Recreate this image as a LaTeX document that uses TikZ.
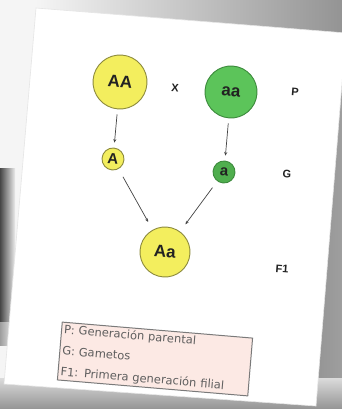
\documentclass[tikz,border=0pt]{standalone}
\usepackage{fontspec}
\setmainfont{Liberation Sans}
\newfontfamily\legendfont{DejaVu Sans}
\usetikzlibrary{arrows.meta}

\definecolor{yel}{HTML}{F3EE5E}
\definecolor{yelline}{HTML}{8C8A3C}
\definecolor{grn}{HTML}{5CC45A}
\definecolor{grndark}{HTML}{4FAE4E}
\definecolor{grnline}{HTML}{3C8A3C}
\definecolor{legfill}{HTML}{FCE9E4}
\definecolor{legline}{HTML}{7A7A7A}
\definecolor{legtext}{HTML}{5E5E5E}
\definecolor{ink}{HTML}{222222}

\begin{document}
\begin{tikzpicture}[x=1pt,y=-1pt,
  tilt/.style={rotate=-4.5},
  genotype/.style={circle, draw, line width=0.9pt, inner sep=0pt, tilt, text=ink,
    font=\bfseries\fontsize{17}{17}\selectfont},
  parentY/.style={genotype, fill=yel, draw=yelline, minimum size=#1},
  parentY/.default=54pt,
  parentG/.style={genotype, fill=grn, draw=grnline, minimum size=52pt},
  gameteY/.style={genotype, fill=yel, draw=yelline, minimum size=22pt,
    font=\bfseries\fontsize{15}{15}\selectfont},
  gameteG/.style={genotype, fill=grndark, draw=grnline, minimum size=22pt,
    font=\bfseries\fontsize{15}{15}\selectfont},
  gen/.style={tilt, text=ink, font=\bfseries\fontsize{11}{11}\selectfont},
  link/.style={draw=ink!85, line width=0.7pt, -{Stealth[length=3.5pt,width=3pt]}},
  legend/.style={draw=legline, line width=1pt, fill=legfill, rotate=-4.8,
    minimum width=191pt, minimum height=58pt, text width=186pt, align=left,
    inner xsep=2.5pt, inner ysep=0pt, text=legtext,
    font=\legendfont\fontsize{11.5}{21}\selectfont}
]
\useasboundingbox (0,0) rectangle (342,409);

% backdrop around the sheet
\fill[black!4] (0,0) rectangle (342,409);
\shade[left color=black!4, right color=black!42] (36,0) rectangle (342,40);
\shade[left color=black!44, right color=black!38] (300,40) rectangle (342,409);
\shade[top color=black!14, bottom color=black!42] (0,378) rectangle (342,409);
\shade[left color=black!72, right color=black!8] (0,168) rectangle (15,322);
\shade[left color=black!38, right color=black!6] (0,322) rectangle (14,345);

% the sheet of paper
\fill[white, draw=black!10, line width=0.6pt]
  (36,8) -- (346,33) -- (316,406) -- (4,384) -- cycle;

% parents
\node[parentY] (AA) at (120,82) {AA};
\node[gen] (cross) at (175,88) {X};
\node[parentG] (aa) at (231,92) {aa};
\node[gen] (P) at (295,92) {P};

% gametes
\node[gameteY] (gA) at (113,159) {A};
\node[gameteG] (ga) at (224,172) {a};
\node[gen] (G) at (287,174) {G};

% first filial generation
\node[parentY=50pt] (Aa) at (165,252) {Aa};
\node[gen] (F1) at (282,269) {F1};

% crosses
\draw[link, shorten <=5pt, shorten >=5pt] (AA) -- (gA);
\draw[link, shorten <=5pt, shorten >=5pt] (aa) -- (ga);
\draw[link, shorten <=9pt, shorten >=9pt] (gA) -- (Aa);
\draw[link, shorten <=8pt, shorten >=9pt] (ga) -- (Aa);

% key
\node[legend] (key) at (155,359) {P: Generación parental\\G: Gametos\\F1: Primera generación filial};
\end{tikzpicture}
\end{document}
